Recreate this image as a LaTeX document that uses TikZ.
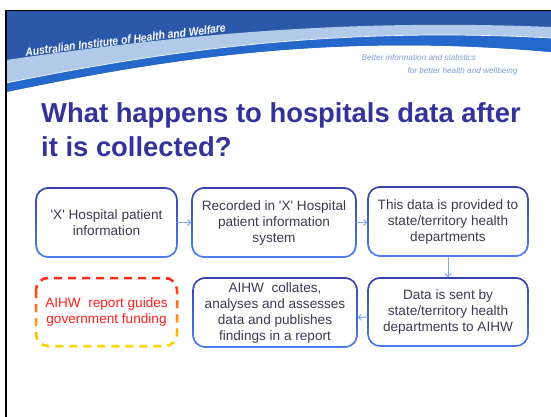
\documentclass[tikz,border=0pt]{standalone}
\usepackage{fontspec}
\setmainfont{Liberation Sans}
\usetikzlibrary{arrows.meta,calc}

\definecolor{bannerdark}{RGB}{44,88,170}
\definecolor{bannerlight}{RGB}{178,202,234}
\definecolor{bannerstripe}{RGB}{36,104,204}
\definecolor{tagblue}{RGB}{120,160,220}
\definecolor{titleblue}{RGB}{51,51,153}
\definecolor{boxtop}{RGB}{52,64,170}
\definecolor{boxbottom}{RGB}{80,128,240}
\definecolor{arrowblue}{RGB}{130,170,240}
\definecolor{boxtext}{RGB}{60,60,80}
\definecolor{warnred}{RGB}{255,30,30}
\definecolor{warnyellow}{RGB}{255,222,0}

\tikzset{
  flowbox/.style={rectangle, outer sep=0pt, inner sep=2pt, align=center,
    text=boxtext, font=\fontsize{13.6}{16}\selectfont},
  frame/.style={line width=1.6pt, rounded corners=12pt},
  flowarrow/.style={draw=arrowblue, line width=1pt, shorten >=0.6pt,
    -{Straight Barb[length=3pt,width=6pt]}},
}

% Rounded frame around a node whose stroke colour runs from #2 (top) to #3 (bottom)
\newcommand\gradframe[4]{%
  \foreach \k in {0,...,15}{%
    \pgfmathtruncatemacro\mixpct{100-100*\k/15}%
    \begin{scope}
      \clip let \p1=(#1.north west), \p2=(#1.south east) in
        ({\x1-6pt},{\y1+6pt-(\y1-\y2+12pt)*\k/16}) rectangle
        ({\x2+6pt},{\y1+6pt-(\y1-\y2+12pt)*(\k+1)/16-0.4pt});
      \draw[frame,#4,draw=#2!\mixpct!#3] (#1.north west) rectangle (#1.south east);
    \end{scope}
  }%
}

\begin{document}
\begin{tikzpicture}[x=1pt,y=-1pt]
\useasboundingbox (0,0) rectangle (551,417);
\fill[white] (0,0) rectangle (551,417);

% header banner
\fill[bannerdark] (6,11) -- (551,11) -- (551,52)
  .. controls (330,32) and (160,60) .. (6,92) -- cycle;
\fill[bannerlight] (6,60) .. controls (160,38) and (330,18) .. (551,27)
  -- (551,38) .. controls (330,26) and (160,52) .. (6,83) -- cycle;
\fill[bannerstripe] (6,83) .. controls (160,52) and (330,26) .. (551,38)
  -- (551,52) .. controls (330,32) and (160,60) .. (6,92) -- cycle;
\draw[white, line width=0.7pt] (6,83) .. controls (160,52) and (330,26) .. (551,38);

% slide edge
\draw[black, line width=1.3pt] (6,417) -- (6,10.5) -- (551,10.5);

\node[font=\fontsize{11.6}{13}\selectfont\bfseries\itshape, text=white,
  rotate=7, xscale=0.89, anchor=base] (org) at (126,44) {Australian Institute of Health and Welfare};
\node[anchor=base west, font=\fontsize{8.2}{10}\selectfont\itshape, text=tagblue]
  (tag1) at (358,61) {Better information and statistics};
\node[anchor=base west, font=\fontsize{8.2}{10}\selectfont\itshape, text=tagblue]
  (tag2) at (404,74) {for better health and wellbeing};

% title
\node[anchor=base west, font=\fontsize{27.4}{33}\selectfont\bfseries, text=titleblue,
  inner sep=0pt] (title1) at (41,123) {What happens to hospitals data after};
\node[anchor=base west, font=\fontsize{27.4}{33}\selectfont\bfseries, text=titleblue,
  inner sep=0pt] (title2) at (41,156) {it is collected?};

% process boxes
\node[flowbox, minimum width=141pt, minimum height=69pt] (b1) at (106.5,222.5)
  {\textquotesingle X\textquotesingle\ Hospital patient\\information};
\node[flowbox, minimum width=164pt, minimum height=69pt] (b2) at (274,222.5)
  {Recorded in \textquotesingle X\textquotesingle\ Hospital\\patient information\\system};
\node[flowbox, minimum width=160pt, minimum height=69pt] (b3) at (448,221.5)
  {This data is provided to\\state/territory health\\departments};
\node[flowbox, minimum width=160pt, minimum height=68pt] (b6) at (448,312)
  {Data is sent by\\state/territory health\\departments to AIHW};
\node[flowbox, minimum width=164pt, minimum height=69pt] (b5) at (275,312.5)
  {AIHW\ \ collates,\\analyses and assesses\\data and publishes\\findings in a report};
\node[flowbox, minimum width=141pt, minimum height=68pt, text=warnred] (b4) at (106.5,312)
  {AIHW\ \ report guides\\government funding};

\gradframe{b1}{boxtop}{boxbottom}{}
\gradframe{b2}{boxtop}{boxbottom}{}
\gradframe{b3}{boxtop}{boxbottom}{}
\gradframe{b5}{boxtop}{boxbottom}{}
\gradframe{b6}{boxtop}{boxbottom}{}
\gradframe{b4}{warnred}{warnyellow}{line width=2.5pt, dash pattern=on 8pt off 6pt}

% connectors
\draw[flowarrow] (b1) -- (b2);
\draw[flowarrow] (b2.east) -- (b2.east -| b3.west);
\draw[flowarrow] (b3) -- (b6);
\draw[flowarrow] ([yshift=-5pt]b6.west) -- ([yshift=-5pt]b5.east);
\end{tikzpicture}
\end{document}
